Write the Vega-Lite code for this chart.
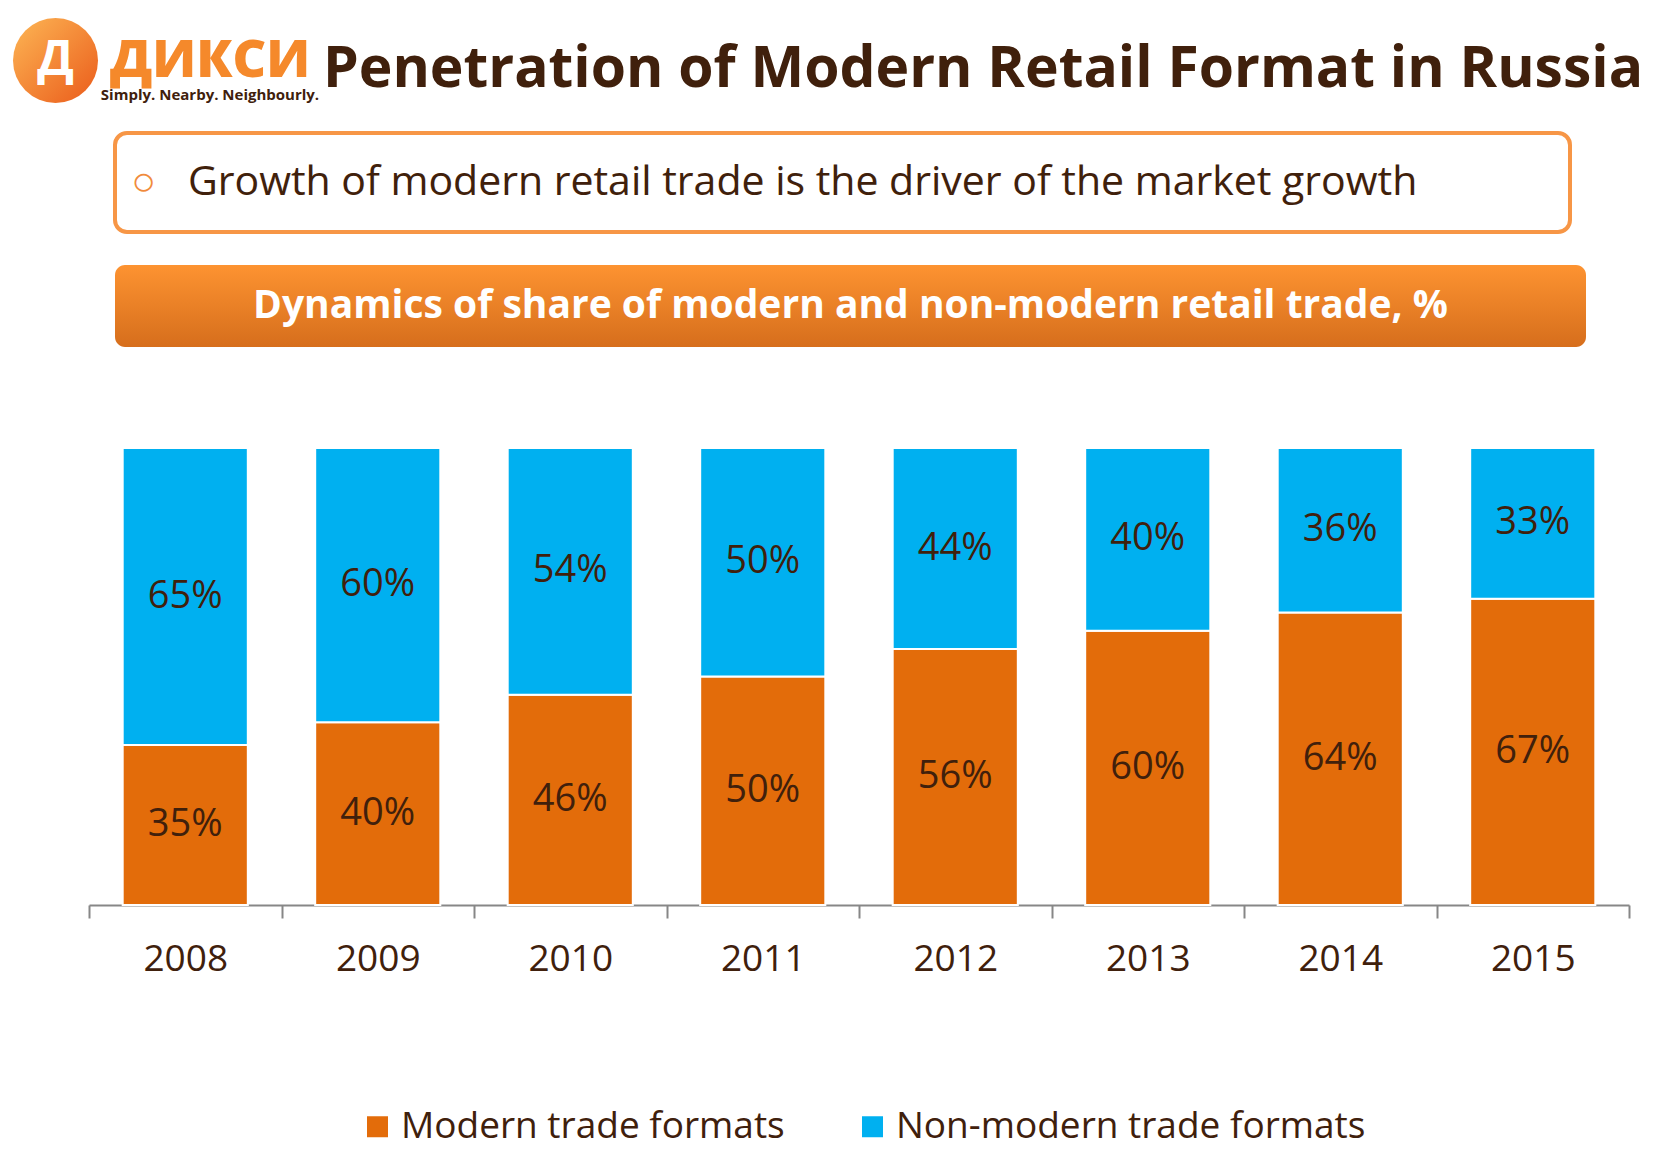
{
  "$schema": "https://vega.github.io/schema/vega-lite/v6.json",
  "background": "white",
  "padding": {"left": 13, "top": 18, "right": 0, "bottom": 0},
  "autosize": {"type": "pad"},
  "config": {
    "view": {"stroke": null},
    "font": "Open Sans",
    "concat": {"spacing": 0}
  },
  "spacing": 0,
  "resolve": {"scale": {"color": "independent"}, "legend": {"color": "independent"}},
  "vconcat": [
    {
      "hconcat": [
        {
          "width": 85,
          "height": 85,
          "data": {"values": [{"logo": "Д"}]},
          "layer": [
            {
              "mark": {
                "type": "point",
                "shape": "circle",
                "size": 7225,
                "filled": true,
                "opacity": 1,
                "fill": {
                  "gradient": "linear",
                  "x1": 0.1, "y1": 0.1, "x2": 0.9, "y2": 0.9,
                  "stops": [
                    {"offset": 0, "color": "#fbad4f"},
                    {"offset": 1, "color": "#ec6420"}
                  ]
                }
              },
              "encoding": {}
            },
            {
              "mark": {"type": "text", "fontSize": 48, "fontWeight": "bold", "color": "white", "baseline": "middle", "align": "center"},
              "encoding": {"text": {"field": "logo"}}
            }
          ]
        },
        {
          "width": 224,
          "height": 1,
          "data": {"values": [{}]},
          "mark": {"type": "rect", "opacity": 0},
          "encoding": {},
          "title": {
            "text": "ДИКСИ",
            "subtitle": "Simply. Nearby. Neighbourly.",
            "orient": "bottom",
            "anchor": "middle",
            "offset": 17,
            "fontSize": 52,
            "fontWeight": 800,
            "color": "#f5892b",
            "subtitleFontSize": 15,
            "subtitleFontWeight": "bold",
            "subtitleColor": "#40200c",
            "subtitlePadding": 0
          }
        },
        {
          "width": 1320,
          "height": 1,
          "data": {"values": [{}]},
          "mark": {"type": "rect", "opacity": 0},
          "encoding": {},
          "title": {
            "text": "Penetration of Modern Retail Format in Russia",
            "orient": "bottom",
            "anchor": "middle",
            "offset": 23,
            "fontSize": 57,
            "fontWeight": "bold",
            "color": "#40200c"
          }
        }
      ]
    },
    {
      "width": 1, "height": 28,
      "data": {"values": [{}]},
      "mark": {"type": "rect", "opacity": 0},
      "encoding": {}
    },
    {
      "hconcat": [
        {
          "width": 100, "height": 1,
          "data": {"values": [{}]},
          "mark": {"type": "rect", "opacity": 0},
          "encoding": {}
        },
        {
          "width": 1455,
          "height": 99,
          "view": {"stroke": "#f79646", "strokeWidth": 4, "cornerRadius": 12, "fill": "white"},
          "data": {"values": [{"line": "○\u00a0\u00a0\u00a0Growth of modern retail trade is the driver of the market growth\u00a0\u00a0\u00a0\u00a0\u00a0\u00a0\u00a0\u00a0\u00a0\u00a0\u2800"}]},
          "mark": {
            "type": "text",
            "fontSize": 41,
            "baseline": "middle",
            "align": "center",
            "fill": {
              "gradient": "linear",
              "x1": 0, "y1": 0, "x2": 1, "y2": 0,
              "stops": [
                {"offset": 0, "color": "#f08a3c"},
                {"offset": 0.022, "color": "#f08a3c"},
                {"offset": 0.0221, "color": "#40200c"},
                {"offset": 0.95, "color": "#40200c"},
                {"offset": 0.9501, "color": "white"},
                {"offset": 1, "color": "white"}
              ]
            }
          },
          "encoding": {"text": {"field": "line"}}
        }
      ]
    },
    {
      "width": 1, "height": 31,
      "data": {"values": [{}]},
      "mark": {"type": "rect", "opacity": 0},
      "encoding": {}
    },
    {
      "hconcat": [
        {
          "width": 102, "height": 1,
          "data": {"values": [{}]},
          "mark": {"type": "rect", "opacity": 0},
          "encoding": {}
        },
        {
          "width": 1471,
          "height": 82,
          "data": {"values": [{"heading": "Dynamics of share of modern and non-modern retail trade, %"}]},
          "layer": [
            {
              "mark": {
                "type": "rect",
                "cornerRadius": 10,
                "color": {
                  "gradient": "linear",
                  "x1": 0, "y1": 0, "x2": 0, "y2": 1,
                  "stops": [
                    {"offset": 0, "color": "#fd9331"},
                    {"offset": 1, "color": "#d66e1c"}
                  ]
                }
              },
              "encoding": {}
            },
            {
              "mark": {"type": "text", "fontSize": 39, "fontWeight": "bold", "color": "white", "baseline": "middle", "align": "center"},
              "encoding": {"text": {"field": "heading"}}
            }
          ]
        }
      ]
    },
    {
      "width": 1, "height": 100,
      "data": {"values": [{}]},
      "mark": {"type": "rect", "opacity": 0},
      "encoding": {}
    },
    {
      "resolve": {"scale": {"color": "independent"}, "legend": {"color": "independent"}},
      "hconcat": [
        {
          "width": 75, "height": 1,
          "data": {"values": [{}]},
          "mark": {"type": "rect", "opacity": 0},
          "encoding": {}
        },
        {
          "width": 1540,
          "height": 457,
          "data": {
            "values": [
              {"year": "2008", "format": "Modern trade formats", "share": 0.35},
              {"year": "2008", "format": "Non-modern trade formats", "share": 0.65},
              {"year": "2009", "format": "Modern trade formats", "share": 0.40},
              {"year": "2009", "format": "Non-modern trade formats", "share": 0.60},
              {"year": "2010", "format": "Modern trade formats", "share": 0.46},
              {"year": "2010", "format": "Non-modern trade formats", "share": 0.54},
              {"year": "2011", "format": "Modern trade formats", "share": 0.50},
              {"year": "2011", "format": "Non-modern trade formats", "share": 0.50},
              {"year": "2012", "format": "Modern trade formats", "share": 0.56},
              {"year": "2012", "format": "Non-modern trade formats", "share": 0.44},
              {"year": "2013", "format": "Modern trade formats", "share": 0.60},
              {"year": "2013", "format": "Non-modern trade formats", "share": 0.40},
              {"year": "2014", "format": "Modern trade formats", "share": 0.64},
              {"year": "2014", "format": "Non-modern trade formats", "share": 0.36},
              {"year": "2015", "format": "Modern trade formats", "share": 0.67},
              {"year": "2015", "format": "Non-modern trade formats", "share": 0.33}
            ]
          },
          "transform": [
            {"stack": "share", "groupby": ["year"], "sort": [{"field": "format", "order": "ascending"}], "as": ["v0", "v1"]}
          ],
          "encoding": {
            "x": {
              "field": "year",
              "type": "ordinal",
              "scale": {"paddingInner": 0, "paddingOuter": 0},
              "axis": {
                "title": null,
                "labelAngle": 0,
                "labelFontSize": 37,
                "labelColor": "#40200c",
                "labelPadding": 23,
                "domainColor": "#878787",
                "domainWidth": 2,
                "tickColor": "#878787",
                "tickWidth": 2,
                "tickSize": 13,
                "tickBand": "extent",
                "grid": false
              }
            }
          },
          "layer": [
            {
              "mark": {"type": "bar", "stroke": "white", "strokeWidth": 2, "width": {"band": 0.65}},
              "encoding": {
                "y": {"field": "v0", "type": "quantitative", "scale": {"domain": [0, 1]}, "axis": null},
                "y2": {"field": "v1"},
                "color": {
                  "field": "format",
                  "type": "nominal",
                  "scale": {
                    "domain": ["Modern trade formats", "Non-modern trade formats"],
                    "range": ["#e36c0a", "#00b0f0"]
                  },
                  "legend": {
                    "title": null,
                    "orient": "none",
                    "legendX": 270,
                    "legendY": 660,
                    "direction": "horizontal",
                    "symbolType": "square",
                    "symbolSize": 441,
                    "symbolStrokeWidth": 0,
                    "symbolOpacity": 1,
                    "labelFontSize": 37,
                    "labelColor": "#40200c",
                    "labelLimit": 1000,
                    "labelOffset": 5,
                    "columnPadding": 69
                  }
                }
              }
            },
            {
              "transform": [
                {"fold": ["v0", "v1"], "as": ["edge", "pos"]},
                {"aggregate": [{"op": "mean", "field": "pos", "as": "mid"}], "groupby": ["year", "format", "share"]}
              ],
              "mark": {"type": "text", "fontSize": 38, "color": "#40200c", "baseline": "middle", "align": "center"},
              "encoding": {
                "y": {"field": "mid", "type": "quantitative", "scale": {"domain": [0, 1]}, "axis": null},
                "text": {"field": "share", "type": "quantitative", "format": ".0%"}
              }
            }
          ]
        }
      ]
    }
  ]
}
